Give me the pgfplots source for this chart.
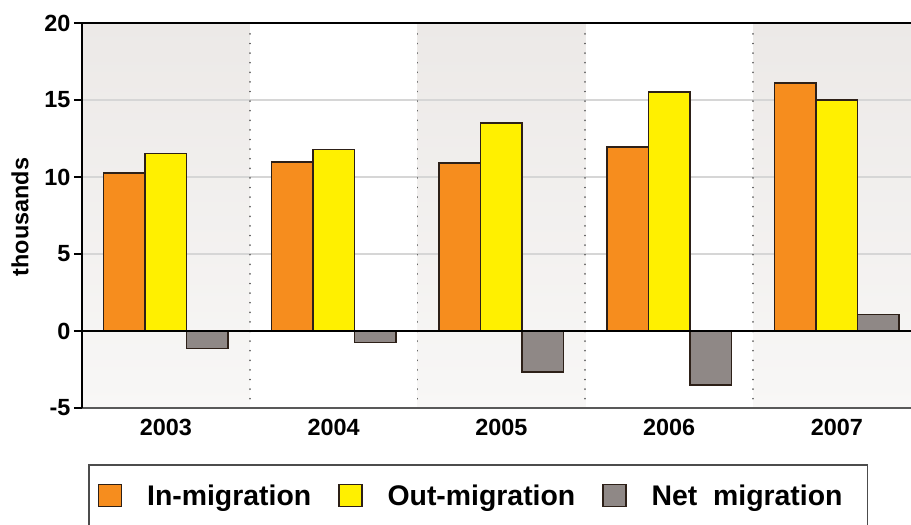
\documentclass[border=0pt]{standalone}
\usepackage{fontspec}
\setmainfont{Liberation Sans}
\usepackage{pgfplots}
\usepackage{pgfplotstable}
\pgfplotsset{compat=1.18}

\definecolor{inmig}{RGB}{246,141,30}
\definecolor{outmig}{RGB}{255,240,0}
\definecolor{netmig}{RGB}{143,136,134}
\definecolor{baredge}{RGB}{45,32,24}
\definecolor{bandtop}{RGB}{236,233,231}
\definecolor{bandbot}{RGB}{248,247,246}
\definecolor{gridc}{RGB}{214,214,214}
\definecolor{sepc}{RGB}{105,105,105}

% migration flows, thousands (0 = 2003 ... 4 = 2007)
\pgfplotstableread{
year in    out   net
0    10.27 11.53 -1.15
1    10.96 11.80 -0.75
2    10.90 13.52 -2.65
3    11.94 15.52 -3.52
4    16.10 15.00  1.07
}\migdata

\begin{document}
\begin{tikzpicture}
\begin{axis}[
  set layers,
  at={(82bp,117bp)}, anchor=south west,
  scale only axis, width=838.75bp, height=385bp,
  xmin=-0.5, xmax=4.5, ymin=-5, ymax=20,
  clip=false,
  ybar=0pt, bar width=41.5bp,
  axis line style={draw=none},
  xtick={0,1,2,3,4},
  xticklabels={2003,2004,2005,2006,2007},
  xtick style={draw=none},
  ytick={-5,0,5,10,15,20},
  yticklabels={-5,0,5,10,15,20},
  ytick pos=left,
  tick align=outside,
  ytick style={black, line width=2bp},
  major tick length=8bp,
  ymajorgrids,
  grid style={gridc, line width=1.2bp},
  tick label style={font=\fontsize{23.5}{26}\selectfont\bfseries},
  ylabel={thousands},
  ylabel style={font=\fontsize{23.5}{26}\selectfont\bfseries,
    at={(axis description cs:-0.074,0.496)}, anchor=center},
  legend columns=3,
  legend style={at={(axis description cs:0.00715,-0.1455)}, anchor=north west,
    draw=black!70, line width=1.5bp, fill=white,
    font=\fontsize{28.5}{32}\selectfont\bfseries,
    inner xsep=9bp, inner ysep=19bp,
    column sep=0pt,
    /tikz/every odd column/.append style={column sep=25bp},
    /tikz/every even column/.append style={column sep=27bp},
    nodes={inner xsep=0pt, inner ysep=0pt}},
  legend image code/.code={\draw[#1, line width=1.4bp] (0bp,-11bp) rectangle (23bp,11bp);},
]
% alternating year bands
\begin{pgfonlayer}{axis background}
  \fill[top color=bandtop, bottom color=bandbot] (axis cs:-0.5,-5) rectangle (axis cs:0.5,20);
  \fill[top color=bandtop, bottom color=bandbot] (axis cs:1.5,-5) rectangle (axis cs:2.5,20);
  \fill[top color=bandtop, bottom color=bandbot] (axis cs:3.5,-5) rectangle (axis cs:4.5,20);
\end{pgfonlayer}
% dotted separators between years
\pgfplotsinvokeforeach{0.5,1.5,2.5,3.5}{
  \draw[sepc, line width=1.8bp, line cap=round, dash pattern=on 0.1bp off 9.5bp]
    (axis cs:#1,-4.4) -- (axis cs:#1,19.7);
}

\addplot[fill=inmig, draw=baredge, line width=1.5bp] table[x=year, y=in] {\migdata};
\addplot[fill=outmig, draw=baredge, line width=1.5bp] table[x=year, y=out] {\migdata};
\addplot[fill=netmig, draw=baredge, line width=1.5bp] table[x=year, y=net] {\migdata};
\legend{In-migration, Out-migration, Net~~migration\hspace*{16bp}}

% frame lines
\draw[black!65, line width=1.5bp] (axis cs:-0.5,-5) -- (axis cs:4.5,-5);
\draw[black, line width=2bp] (axis cs:-0.5,20) -- (axis cs:4.5,20);
\draw[black, line width=2.5bp] (axis cs:-0.5,0) -- (axis cs:4.5,0);
\draw[black, line width=2bp] (axis cs:-0.5,-5) -- (axis cs:-0.5,20.05);
\end{axis}
\pgfresetboundingbox
\path[use as bounding box] (0,0) rectangle (911bp,525bp);
\end{tikzpicture}
\end{document}
